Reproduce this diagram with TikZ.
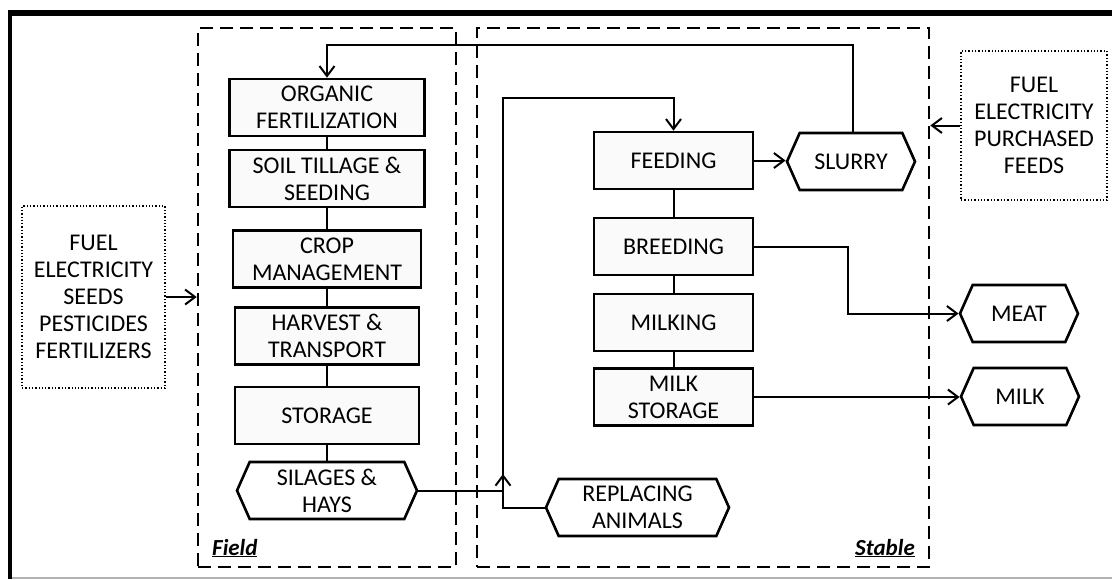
\documentclass[tikz,border=0pt]{standalone}
\usepackage{fontspec}
\setmainfont{Carlito}
\usetikzlibrary{arrows.meta,shapes.symbols}

\begin{document}
\begin{tikzpicture}[x=1pt,y=-1pt,
  every node/.style={font=\fontsize{24}{26.9}\selectfont, align=center, inner sep=0pt},
  stepbox/.style={draw, line width=2.6pt, fill=black!2, minimum height=57pt},
  hexbox/.style={draw, line width=2.6pt, signal, signal to=west and east,
                 signal pointer angle=132, minimum height=57pt},
  inbox/.style={draw, dotted, line width=1.3pt},
  zone/.style={draw, line width=2.5pt, dash pattern=on 13pt off 7pt},
  link/.style={line width=2pt},
  flow/.style={line width=2pt, -{Straight Barb[length=10pt,width=15pt,line width=2pt]}},
  zonelabel/.style={font=\fontsize{23}{26}\selectfont\bfseries\itshape}
]
\useasboundingbox (0,0) rectangle (1112,579);

% outer frame
\draw[line width=6pt] (8,12.5) -- (1112,12.5);
\draw[line width=4pt] (10,10) -- (10,579);
\draw[black!30, line width=1.5pt] (12,578) -- (1112,578);

% system zones
\node[zone, minimum width=258pt, minimum height=539pt] (field) at (327,297.5) {};
\node[zone, minimum width=452pt, minimum height=539pt] (stable) at (703,297.5) {};
\node[zonelabel, anchor=base west] (fieldlabel) at (212,555) {\underline{Field}};
\node[zonelabel, anchor=base east] (stablelabel) at (915,555) {\underline{Stable}};

% external inputs
\node[inbox, minimum width=143pt, minimum height=182pt] (inleft) at (93.5,297)
  {FUEL\\ELECTRICITY\\SEEDS\\PESTICIDES\\FERTILIZERS};
\node[inbox, minimum width=146pt, minimum height=149pt] (inright) at (1034,125.5)
  {FUEL\\ELECTRICITY\\PURCHASED\\FEEDS};

% field operations
\node[stepbox, minimum width=195pt] (organic) at (327,107.5) {ORGANIC\\FERTILIZATION};
\node[stepbox, minimum width=195pt] (soil) at (327,178.5) {SOIL TILLAGE \&\\SEEDING};
\node[stepbox, minimum width=188pt] (crop) at (327,259) {CROP\\MANAGEMENT};
\node[stepbox, minimum width=184pt] (harvest) at (327,336) {HARVEST \&\\TRANSPORT};
\node[stepbox, minimum width=184pt] (storage) at (327,415.5) {STORAGE};
\node[hexbox, minimum width=180pt] (silages) at (327,490.5) {SILAGES \&\\HAYS};

% stable operations
\node[stepbox, minimum width=159pt] (feeding) at (673.5,160.5) {FEEDING};
\node[stepbox, minimum width=159pt] (breeding) at (673.5,246.5) {BREEDING};
\node[stepbox, minimum width=159pt] (milking) at (673.5,322.5) {MILKING};
\node[stepbox, minimum width=159pt] (milkstore) at (673.5,397) {MILK\\STORAGE};
\node[hexbox, minimum width=128pt] (slurry) at (851,161.5) {SLURRY};
\node[hexbox, minimum width=183pt] (replacing) at (637.5,507.5) {REPLACING\\ANIMALS};

% outputs
\node[hexbox, minimum width=118pt] (meat) at (1019,313.5) {MEAT};
\node[hexbox, minimum width=118pt] (milk) at (1020,396.5) {MILK};

% process chains
\draw[link] (organic.south) -- (soil.north);
\draw[link] (soil.south) -- (crop.north);
\draw[link] (crop.south) -- (harvest.north);
\draw[link] (harvest.south) -- (storage.north);
\draw[link] (storage.south) -- (silages.north);
\draw[link] (feeding.south) -- (breeding.north);
\draw[link] (breeding.south) -- (milking.north);
\draw[link] (milking.south) -- (milkstore.north);

% flows
\draw[flow] (inleft.east) -- (inleft.east -| field.west);
\draw[flow] (inright.west) -- (inright.west -| stable.east);
\draw[flow] (feeding.east) -- (feeding.east -| slurry.west);
\draw[flow] ([xshift=2pt]slurry.north) -- ++(0,-87) -| (organic.north);
\draw[flow] (replacing.west) -| (503,98) -| (feeding.north);
\draw[flow] (silages.east) -| (503,474);
\draw[flow] (breeding.east) -- (848,246.5) |- (meat.west);
\draw[flow] (milkstore.east) -- (milkstore.east -| milk.west);
\end{tikzpicture}
\end{document}
